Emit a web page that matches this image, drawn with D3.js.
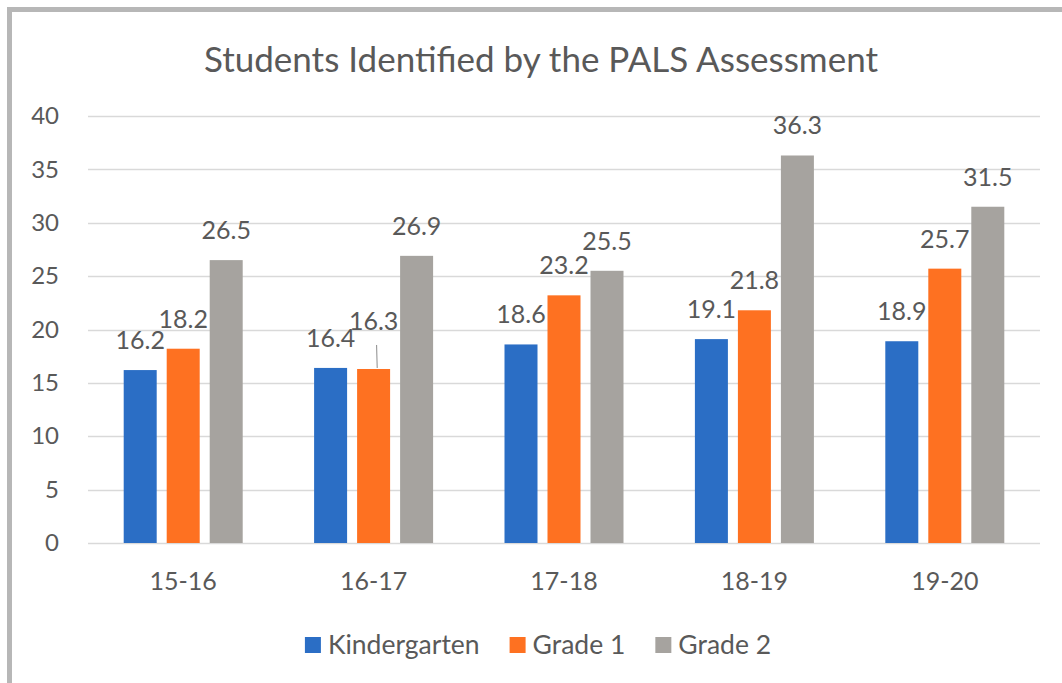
<!DOCTYPE html>
<html>
<head>
<meta charset="utf-8">
<script src="https://cdn.jsdelivr.net/npm/d3@7"></script>
<style>
  html, body { margin: 0; padding: 0; background: #fff; }
  svg { display: block; font-family: Lato, "Open Sans", sans-serif; }
</style>
</head>
<body>
<svg id="chart" width="1062" height="683"></svg>
<script>
const title = "Students Identified by the PALS Assessment";
const categories = ["15-16", "16-17", "17-18", "18-19", "19-20"];
const seriesNames = ["Kindergarten", "Grade 1", "Grade 2"];
const kindergarten = [16.2, 16.4, 18.6, 19.1, 18.9];
const grade1 = [18.2, 16.3, 23.2, 21.8, 25.7];
const grade2 = [26.5, 26.9, 25.5, 36.3, 31.5];
const yTicks = [0, 5, 10, 15, 20, 25, 30, 35, 40];
const colors = ["#2b6ec5", "#fe7121", "#a6a39f"];

const seriesValues = [kindergarten, grade1, grade2];
const W = 1062, H = 683;
const textColor = "#595959";
const svg = d3.select("#chart");

// outer frame
svg.append("rect").attr("x", 9.5).attr("y", 9.5).attr("width", W + 20).attr("height", H + 20)
  .attr("fill", "#fff").attr("stroke", "#b7b7b7").attr("stroke-width", 5);

const plot = { left: 88, right: 1040, top: 116, bottom: 543 };

const x0 = d3.scaleBand().domain(categories).range([plot.left, plot.right])
  .paddingInner(0.375).paddingOuter(0.1875);
const x1 = d3.scaleBand().domain(seriesNames).range([0, x0.bandwidth()])
  .paddingInner(0.2326).paddingOuter(0);
const y = d3.scaleLinear().domain([0, 40]).range([plot.bottom, plot.top]);

// gridlines
svg.append("g").selectAll("line").data(yTicks).join("line")
  .attr("x1", plot.left).attr("x2", plot.right)
  .attr("y1", d => Math.round(y(d)) + 0.5).attr("y2", d => Math.round(y(d)) + 0.5)
  .attr("stroke", "#d9d9d9").attr("stroke-width", 1.5);

// y axis labels
const yAxis = d3.axisLeft(y).tickValues(yTicks).tickSize(0).tickPadding(0).tickFormat(d3.format("d"));
const gy = svg.append("g").attr("transform", `translate(${59},0)`).call(yAxis);
gy.select(".domain").remove();
gy.selectAll("text").attr("fill", textColor).style("font-size", "24px").style("font-family", "Lato");

// x axis labels
const xAxis = d3.axisBottom(x0).tickSize(0).tickPadding(0);
const gx = svg.append("g").attr("transform", `translate(0,${plot.bottom})`).call(xAxis);
gx.select(".domain").remove();
gx.selectAll("text").attr("fill", textColor).style("font-size", "25px").style("font-family", "Lato")
  .attr("dy", null).attr("y", 47);

// bars
const rows = [];
categories.forEach((c, i) => {
  seriesNames.forEach((s, j) => rows.push({ cat: c, ser: s, j, v: seriesValues[j][i], i }));
});

svg.append("g").selectAll("rect").data(rows).join("rect")
  .attr("x", d => x0(d.cat) + x1(d.ser))
  .attr("width", x1.bandwidth())
  .attr("y", d => y(d.v))
  .attr("height", d => y(0) - y(d.v))
  .attr("fill", d => colors[d.j]);

// data labels
const labelOffset = d => (d.cat === "16-17" && d.ser === "Grade 1") ? 39 : 21;
svg.append("g").selectAll("text").data(rows).join("text")
  .attr("x", d => x0(d.cat) + x1(d.ser) + x1.bandwidth() / 2)
  .attr("y", d => y(d.v) - labelOffset(d))
  .attr("text-anchor", "middle")
  .attr("fill", textColor)
  .style("font-size", "25px")
  .text(d => d.v.toFixed(1));

// leader line for moved label
const moved = rows.filter(d => d.cat === "16-17" && d.ser === "Grade 1");
svg.append("g").selectAll("line").data(moved).join("line")
  .attr("x1", d => x0(d.cat) + x1(d.ser) + x1.bandwidth() / 2 + 3)
  .attr("x2", d => x0(d.cat) + x1(d.ser) + x1.bandwidth() / 2 + 3.6)
  .attr("y1", d => y(d.v) - 24)
  .attr("y2", d => y(d.v) - 1)
  .attr("stroke", "#8c8c8c").attr("stroke-width", 1);

// title
svg.append("text").attr("x", 541).attr("y", 72).attr("text-anchor", "middle")
  .attr("fill", textColor).style("font-size", "35px").text(title);

// legend
const lg = svg.append("g");
const items = lg.selectAll("g").data(seriesNames).join("g");
items.append("rect").attr("width", 16).attr("height", 16).attr("y", -8)
  .attr("fill", (d, i) => colors[i]);
items.append("text").attr("x", 23).attr("y", 0).attr("dy", "0.35em")
  .attr("fill", textColor).style("font-size", "26.5px").text(d => d);
let cx = 0;
const offsets = [];
items.each(function () {
  const w = 23 + d3.select(this).select("text").node().getComputedTextLength();
  offsets.push(cx);
  cx += w + 30;
});
const total = cx - 30;
const startX = 538 - total / 2;
items.attr("transform", (d, i) => `translate(${startX + offsets[i]},645)`);
</script>
</body>
</html>
